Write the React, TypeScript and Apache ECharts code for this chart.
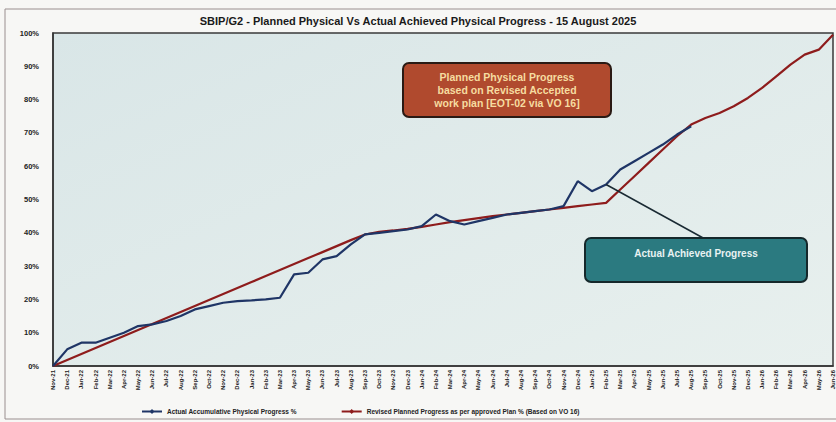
import React, { useEffect, useRef } from "react";
import * as echarts from "echarts";

const months = [
  "Nov-21", "Dec-21",
  "Jan-22", "Feb-22", "Mar-22", "Apr-22", "May-22", "Jun-22", "Jul-22", "Aug-22", "Sep-22", "Oct-22", "Nov-22", "Dec-22",
  "Jan-23", "Feb-23", "Mar-23", "Apr-23", "May-23", "Jun-23", "Jul-23", "Aug-23", "Sep-23", "Oct-23", "Nov-23", "Dec-23",
  "Jan-24", "Feb-24", "Mar-24", "Apr-24", "May-24", "Jun-24", "Jul-24", "Aug-24", "Sep-24", "Oct-24", "Nov-24", "Dec-24",
  "Jan-25", "Feb-25", "Mar-25", "Apr-25", "May-25", "Jun-25", "Jul-25", "Aug-25", "Sep-25", "Oct-25", "Nov-25", "Dec-25",
  "Jan-26", "Feb-26", "Mar-26", "Apr-26", "May-26", "Jun-26",
];

const actualProgress = [
  0, 5, 7, 7, 8.5, 10, 12, 12.5, 13.5, 15, 17, 18, 19, 19.5, 19.7, 20, 20.5, 27.5, 28, 32,
  33, 36.5, 39.5, 40, 40.5, 41, 42, 45.5, 43.5, 42.5, 43.5, 44.5, 45.5, 46, 46.5, 47, 48,
  55.5, 52.5, 54.5, 59, 61.5, 64, 66.5, 69.5, 72,
];

const plannedProgress = [
  0, 1.8, 3.6, 5.4, 7.2, 9.0, 10.8, 12.6, 14.4, 16.2, 18.0, 19.8, 21.6, 23.4, 25.2, 27.0, 28.8,
  30.6, 32.4, 34.2, 36.0, 37.8, 39.5, 40.3, 40.7, 41.2, 41.8, 42.5, 43.2, 43.8, 44.4, 45.0, 45.5,
  46.0, 46.5, 47.0, 47.5, 48.0, 48.5, 49.0, 53, 57, 61, 65, 69, 72.5, 74.5, 76, 78, 80.5, 83.5,
  87, 90.5, 93.5, 95, 99.5,
];

const yTicks = { min: 0, max: 100, interval: 10 };

const titleText = "SBIP/G2 - Planned Physical Vs Actual Achieved Physical Progress - 15 August 2025";
const actualName = "Actual Accumulative Physical Progress %";
const plannedName = "Revised Planned Progress as per approved Plan % (Based on VO 16)";
const plannedNote = "Planned Physical Progress\nbased on Revised Accepted\nwork plan [EOT-02 via VO 16]";
const actualNote = "Actual Achieved Progress";
const noteIndex = 39;

const FONT = "Liberation Sans, Arial, sans-serif";

export default function App() {
  const ref = useRef<HTMLDivElement>(null);

  useEffect(() => {
    document.body.style.margin = "0";
    const chart = echarts.init(ref.current!, null, { renderer: "svg" });
    const option: any = {
      animation: false,
      backgroundColor: "#f7f7f5",
      title: {
        text: titleText,
        left: "center",
        top: 10,
        textStyle: { fontFamily: FONT, fontSize: 11, fontWeight: "bold", color: "#1a1a1a" },
      },
      grid: {
        left: 53,
        right: 3,
        top: 33,
        bottom: 56,
        show: true,
        backgroundColor: new echarts.graphic.LinearGradient(0, 0, 1, 1, [
          { offset: 0, color: "#d9e6e7" },
          { offset: 1, color: "#e8f0ee" },
        ]),
        borderColor: "#3a3a3a",
        borderWidth: 1.5,
      },
      legend: {
        left: 136,
        top: 403,
        itemWidth: 20,
        itemHeight: 6,
        itemGap: 44,
        textStyle: { fontFamily: FONT, fontSize: 6.5, fontWeight: "bold", color: "#222" },
        data: [actualName, plannedName],
      },
      xAxis: {
        type: "category",
        data: months,
        boundaryGap: false,
        axisLine: { lineStyle: { color: "#333", width: 1.5 } },
        axisTick: { show: false },
        axisLabel: {
          interval: 0,
          rotate: 90,
          fontFamily: FONT,
          fontSize: 6,
          fontWeight: "bold",
          color: "#222",
          margin: 4,
        },
      },
      yAxis: {
        type: "value",
        min: yTicks.min,
        max: yTicks.max,
        interval: yTicks.interval,
        axisLine: { show: true, lineStyle: { color: "#333", width: 1.5 } },
        axisTick: { show: false },
        splitLine: { show: false },
        axisLabel: {
          formatter: "{value}%",
          fontFamily: FONT,
          fontSize: 7.5,
          fontWeight: "bold",
          color: "#222",
          margin: 14,
        },
      },
      series: [
        {
          name: actualName,
          type: "line",
          data: actualProgress,
          symbol: "diamond",
          symbolSize: 3,
          showSymbol: false,
          lineStyle: { color: "#1f3566", width: 2.2 },
          itemStyle: { color: "#1f3566" },
          z: 3,
        },
        {
          name: plannedName,
          type: "line",
          data: plannedProgress,
          symbol: "diamond",
          symbolSize: 3,
          showSymbol: false,
          lineStyle: { color: "#8e1c1c", width: 2.2 },
          itemStyle: { color: "#8e1c1c" },
          z: 2,
        },
      ],
    };
    chart.setOption(option);

    const p = chart.convertToPixel({ seriesIndex: 0 }, [noteIndex, actualProgress[noteIndex]]) as number[];
    chart.setOption({
      graphic: [
        {
          type: "rect",
          silent: true,
          shape: { x: 5, y: 9, width: 840, height: 410 },
          style: { fill: "none", stroke: "#9a8f8f", lineWidth: 1 },
          z: 0,
        },
        {
          type: "line",
          shape: { x1: p[0], y1: p[1], x2: 705, y2: 239 },
          style: { stroke: "#1a2a33", lineWidth: 1.5 },
          z: 10,
        },
        {
          type: "rect",
          shape: { x: 403, y: 63, width: 208, height: 54, r: 6 },
          style: { fill: "#b04a2e", stroke: "#2a1a14", lineWidth: 2 },
          z: 10,
        },
        {
          type: "text",
          x: 507,
          y: 90,
          style: {
            text: plannedNote,
            fill: "#f6dca0",
            font: "bold 10.5px Liberation Sans, Arial, sans-serif",
            align: "center",
            verticalAlign: "middle",
            lineHeight: 13,
          },
          z: 11,
        },
        {
          type: "rect",
          shape: { x: 585, y: 238, width: 222, height: 44, r: 6 },
          style: { fill: "#2b7a80", stroke: "#15282b", lineWidth: 2 },
          z: 10,
        },
        {
          type: "text",
          x: 696,
          y: 253,
          style: {
            text: actualNote,
            fill: "#e8f2f2",
            font: "bold 10px Liberation Sans, Arial, sans-serif",
            align: "center",
            verticalAlign: "middle",
          },
          z: 11,
        },
      ],
    });
    return () => chart.dispose();
  }, []);

  return <div ref={ref} style={{ width: 836, height: 422 }} />;
}
